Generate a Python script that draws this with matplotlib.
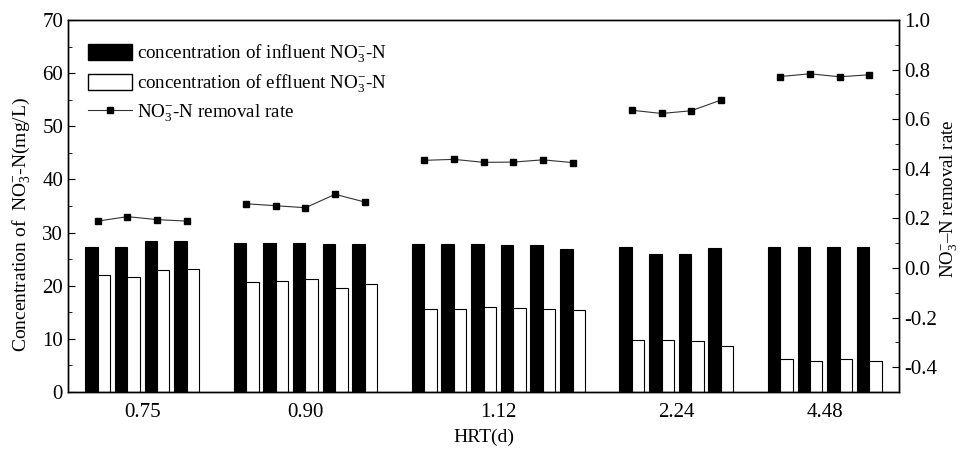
import numpy as np
import matplotlib
matplotlib.use('Agg')
import matplotlib.pyplot as plt
from matplotlib.patches import Patch
from matplotlib.lines import Line2D

plt.rcParams['font.family'] = 'Liberation Serif'
plt.rcParams['mathtext.fontset'] = 'custom'
plt.rcParams['mathtext.rm'] = 'Liberation Serif'
plt.rcParams['mathtext.it'] = 'Liberation Serif:italic'
plt.rcParams['mathtext.bf'] = 'Liberation Serif:bold'

# HRT groups and how many samples in each
hrt_labels = ['0.75', '0.90', '1.12', '2.24', '4.48']
group_sizes = [4, 5, 6, 4, 4]

influent = [27.3, 27.3, 28.5, 28.5,
            28.1, 28.1, 28.1, 27.8, 27.8,
            27.9, 27.9, 27.9, 27.7, 27.7, 26.9,
            27.3, 26.0, 26.0, 27.0,
            27.2, 27.2, 27.35, 27.35]
effluent = [22.1, 21.6, 22.9, 23.1,
            20.7, 20.9, 21.2, 19.5, 20.3,
            15.7, 15.55, 15.9, 15.75, 15.55, 15.4,
            9.8, 9.7, 9.5, 8.7,
            6.15, 5.8, 6.2, 5.9]
removal = [0.189, 0.207, 0.195, 0.189,
           0.259, 0.251, 0.243, 0.297, 0.266,
           0.434, 0.438, 0.426, 0.427, 0.436, 0.425,
           0.636, 0.623, 0.634, 0.677,
           0.772, 0.783, 0.771, 0.779]

# x positions: one empty slot between groups
xpos = []
centers = []
start = 0
for n in group_sizes:
    xs = list(range(start, start + n))
    xpos.extend(xs)
    centers.append(np.mean(xs))
    start += n + 1
xpos = np.array(xpos, dtype=float)

fig = plt.figure(figsize=(9.6, 4.49), dpi=100)
ax = fig.add_axes([0.0708, 0.127, 0.8657, 0.8285])
w = 0.42
ax.bar(xpos - w / 2, influent, width=w, color='black', edgecolor='black', linewidth=0.8)
ax.bar(xpos + w / 2, effluent, width=w, color='white', edgecolor='black', linewidth=0.8)
ax.set_xlim(-1, xpos[-1] + 1)
ax.set_ylim(0, 70)
ax.set_yticks(np.arange(0, 71, 10))
ax.set_yticks(np.arange(5, 70, 10), minor=True)
ax.set_xticks(centers)
ax.set_xticklabels(hrt_labels)
ax.tick_params(axis='x', length=0, labelsize=15, pad=8)
ax.tick_params(axis='y', which='both', direction='in', labelsize=15)
ax.tick_params(axis='y', which='major', length=5)
ax.tick_params(axis='y', which='minor', length=3)
ax.set_xlabel('HRT(d)', fontsize=14, labelpad=5)
ax.set_ylabel('Concentration of  NO$_3^{-}$-N(mg/L)', fontsize=14)
ax.yaxis.set_label_coords(-0.043, 0.45)

ax2 = ax.twinx()
i = 0
for n in group_sizes:
    ax2.plot(xpos[i:i + n], removal[i:i + n], color='#333333', linewidth=0.8,
             marker='s', markersize=4.5, markerfacecolor='black', markeredgecolor='black')
    i += n
ax2.set_ylim(-0.5, 1.0)
ax2.set_yticks(np.arange(-0.4, 1.01, 0.2))
ax2.set_yticks(np.arange(-0.3, 1.0, 0.2), minor=True)
ax2.set_yticklabels(['%.1f' % v for v in np.arange(-0.4, 1.01, 0.2)])
ax2.tick_params(axis='y', which='both', direction='in', labelsize=15)
ax2.tick_params(axis='y', which='major', length=5)
ax2.tick_params(axis='y', which='minor', length=3)
ax2.set_ylabel('NO$_3^{-}$\u2013N removal rate', fontsize=13.5)
ax2.yaxis.set_label_coords(1.047, 0.52)

for a in (ax, ax2):
    for s in a.spines.values():
        s.set_linewidth(1.0)

handles = [Patch(facecolor='black', edgecolor='black'),
           Patch(facecolor='white', edgecolor='black'),
           Line2D([0], [0], color='#333333', linewidth=0.8, marker='s', markersize=4.5,
                  markerfacecolor='black', markeredgecolor='black')]
labels = ['concentration of influent NO$_3^{-}$-N',
          'concentration of effluent NO$_3^{-}$-N',
          'NO$_3^{-}$-N removal rate']
ax.legend(handles, labels, loc='upper left', frameon=False, fontsize=13.7,
          handlelength=2.3, handleheight=0.95, handletextpad=0.25, labelspacing=0.4,
          borderaxespad=0, bbox_to_anchor=(0.015, 0.96))

fig.savefig('out.png', dpi=100)
